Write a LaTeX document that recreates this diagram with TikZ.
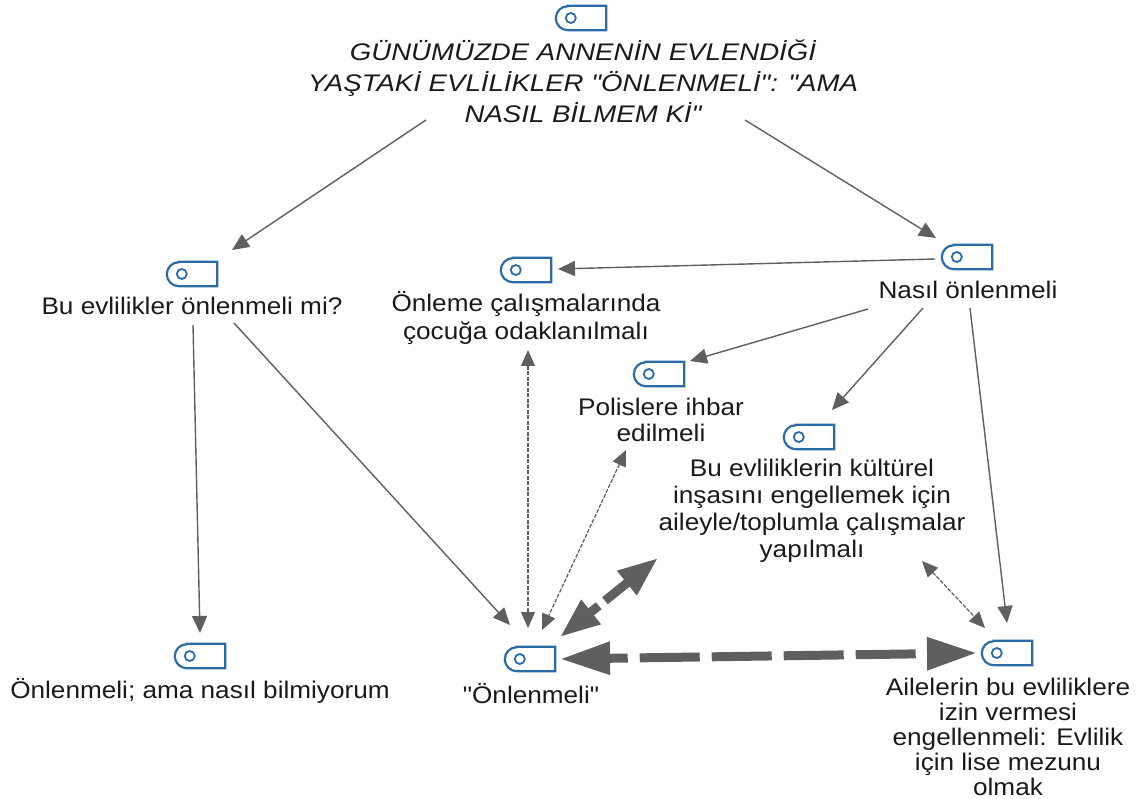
\documentclass[tikz,border=0pt]{standalone}
\usepackage{fontspec}
\newfontfamily\bodyfont{Liberation Sans}[FakeStretch=1.09]
\newfontfamily\titlefont{Liberation Sans}[FakeStretch=1.15]
\usetikzlibrary{arrows.meta}
\definecolor{ink}{HTML}{1A1A1A}
\definecolor{edge}{HTML}{5F5F5F}
\definecolor{iconblue}{HTML}{2B6CA8}
\tikzset{
  x=1pt,y=-1pt,
  label text/.style={text=ink,align=center,inner sep=0pt,font=\bodyfont\fontsize{24}{26}\selectfont},
  icon box/.style={minimum width=50pt,minimum height=24pt,inner sep=0pt},
  icon line/.style={draw=iconblue,line width=2.2pt},
  thin link/.style={draw=edge,line width=1.4pt,-{Triangle[length=17pt,width=15pt]}},
  thin both/.style={draw=edge,line width=1.2pt,dash pattern=on 4pt off 1.5pt,{Triangle[length=16pt,width=14pt]}-{Triangle[length=16pt,width=14pt]}},
  thick both/.style={draw=edge,line width=9pt,dash pattern=on 60pt off 12pt,dash phase=40pt,{Triangle[length=50pt,width=31pt]}-{Triangle[length=50pt,width=31pt]}},
  thick short/.style={draw=edge,line width=9pt,dash pattern=on 40pt off 8pt,dash phase=28pt,{Triangle[length=40pt,width=29pt]}-{Triangle[length=40pt,width=29pt]}},
}
\newcommand{\iconat}[3]{%
  \node[icon box] (#1) at (#2,#3) {};
  \draw[icon line,line join=miter] ([xshift=12pt]#1.north west) -- (#1.north east) -- (#1.south east) -- ([xshift=12pt]#1.south west) arc[start angle=270,end angle=90,radius=12pt] -- cycle;
  \draw[icon line,line width=1.8pt] ([xshift=15pt]#1.west) circle (5pt);
}
\begin{document}
\begin{tikzpicture}
\useasboundingbox (0,0) rectangle (1144,799);
\iconat{iTop}{581}{18}
\iconat{iLeft}{192}{274}
\iconat{iFocus}{526}{270}
\iconat{iHow}{967}{257}
\iconat{iPolice}{659}{374}
\iconat{iCulture}{809}{437}
\iconat{iDontKnow}{200}{656}
\iconat{iPrevent}{530}{659}
\iconat{iFamily}{1007}{653}
\node[label text,font=\titlefont\fontsize{24}{31}\selectfont\itshape] (tTop) at (583,81) {GÜNÜMÜZDE ANNENİN EVLENDİĞİ\\YAŞTAKİ EVLİLİKLER "ÖNLENMELİ": "AMA\\NASIL BİLMEM Kİ"};
\node[label text] (tLeft) at (192,306) {Bu evlilikler önlenmeli mi?};
\node[label text,font=\bodyfont\fontsize{24}{28}\selectfont] (tFocus) at (526,318) {Önleme çalışmalarında\\çocuğa odaklanılmalı};
\node[label text] (tHow) at (968,290) {Nasıl önlenmeli};
\node[label text] (tPolice) at (661,420) {Polislere ihbar\\edilmeli};
\node[label text,font=\bodyfont\fontsize{24}{27}\selectfont] (tCulture) at (812,511) {Bu evliliklerin kültürel\\inşasını engellemek için\\aileyle/toplumla çalışmalar\\yapılmalı};
\node[label text] (tDontKnow) at (200,691) {Önlenmeli; ama nasıl bilmiyorum};
\node[label text] (tPrevent) at (531,694) {"Önlenmeli"};
\node[label text,font=\bodyfont\fontsize{24}{25}\selectfont] (tFamily) at (1008,737) {Ailelerin bu evliliklere\\izin vermesi\\engellenmeli: Evlilik\\için lise mezunu\\olmak};
% connectors: end points are offsets from the named nodes' centres
\draw[thin link] ([shift={(-157,39)}]tTop.center) -- ([shift={(40,-24)}]iLeft.center);
\draw[thin link] ([shift={(162,39)}]tTop.center) -- ([shift={(-31,-19)}]iHow.center);
\draw[thin link] ([shift={(-32,2)}]iHow.center) -- ([shift={(32,-1)}]iFocus.center);
\draw[thin link] ([shift={(-100,19)}]tHow.center) -- ([shift={(31,-13)}]iPolice.center);
\draw[thin link] ([shift={(-45,18)}]tHow.center) -- ([shift={(23,-27)}]iCulture.center);
\draw[thin link] ([shift={(2,18)}]tHow.center) -- ([shift={(0,-30)}]iFamily.center);
\draw[thin link] ([shift={(1,19)}]tLeft.center) -- ([shift={(0,-23)}]iDontKnow.center);
\draw[thin link] ([shift={(42,17)}]tLeft.center) -- ([shift={(-20,-34)}]iPrevent.center);
\draw[thin both] ([shift={(2,32)}]tFocus.center) -- ([shift={(-2,-31)}]iPrevent.center);
\draw[thin both] ([shift={(-35,30)}]tPolice.center) -- ([shift={(12,-29)}]iPrevent.center);
\draw[thin both] ([shift={(110,50)}]tCulture.center) -- ([shift={(-22,-25)}]iFamily.center);
\draw[thick short] ([shift={(30,-22)}]iPrevent.center) -- ([shift={(-154,47)}]tCulture.center);
\draw[thick both] ([shift={(30,0)}]iPrevent.center) -- ([shift={(-30,0)}]iFamily.center);
\end{tikzpicture}
\end{document}
